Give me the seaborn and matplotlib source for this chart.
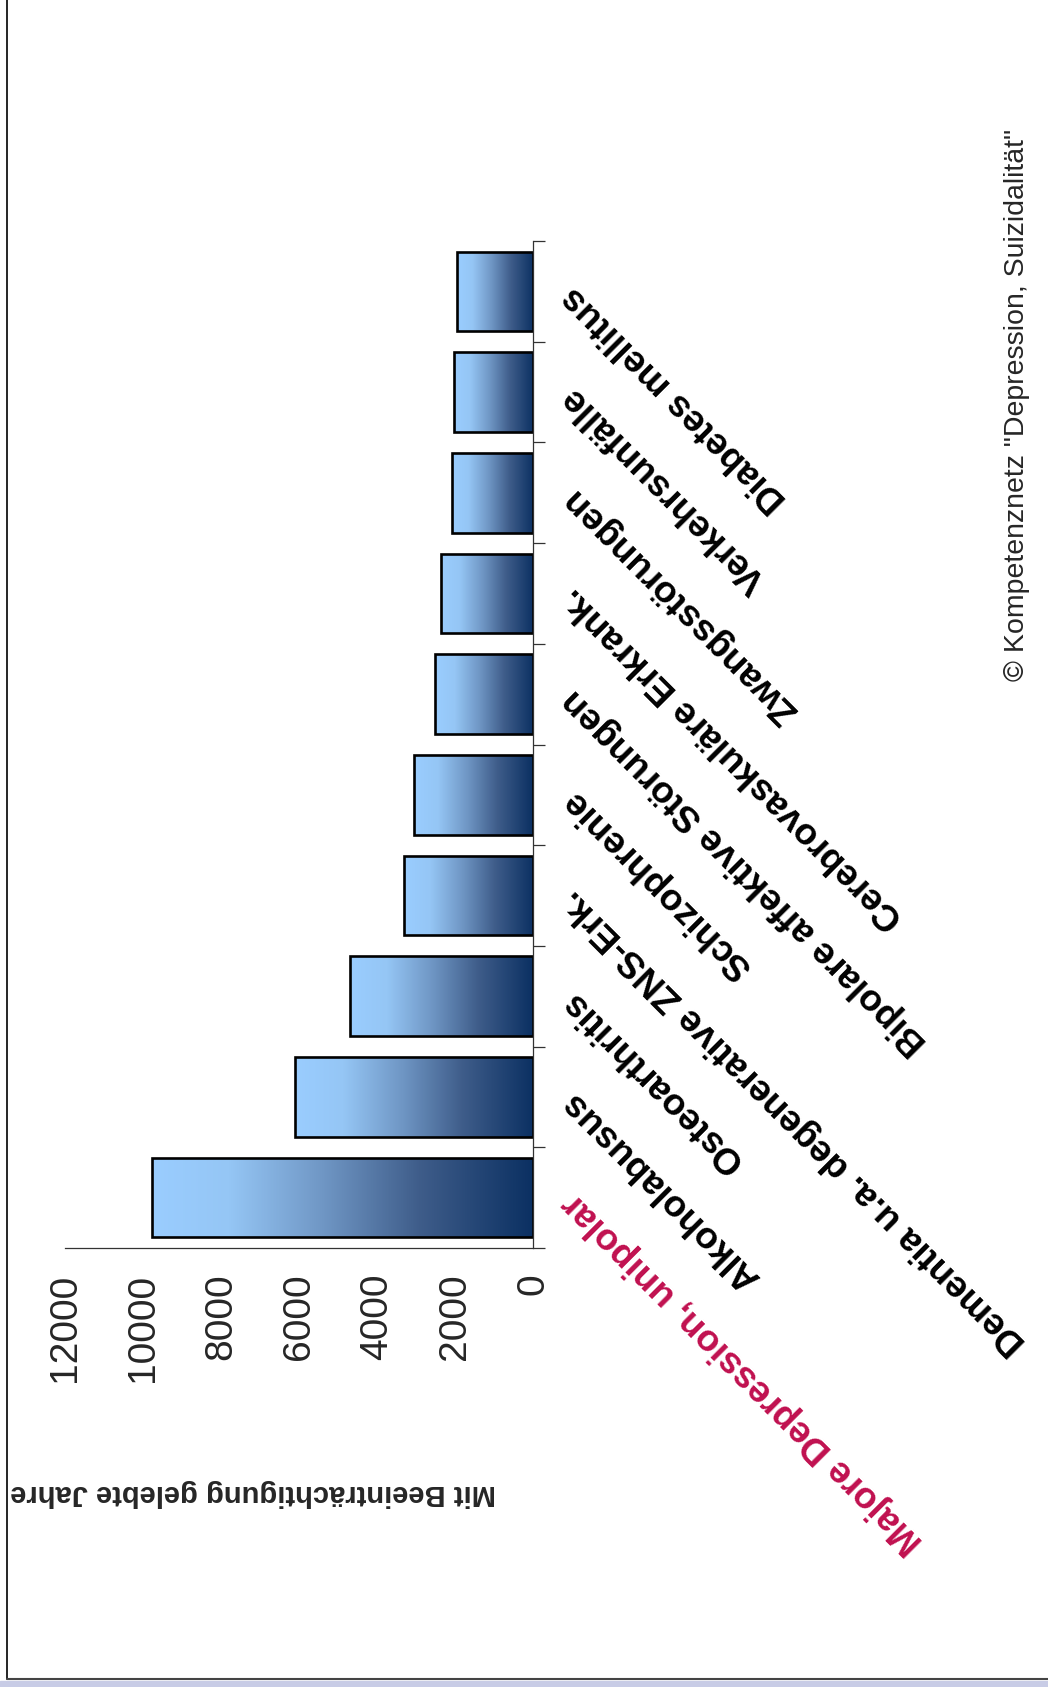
import numpy as np
import pandas as pd
import matplotlib
matplotlib.use("Agg")
import matplotlib.pyplot as plt
import seaborn as sns
from matplotlib.colors import LinearSegmentedColormap
from matplotlib.lines import Line2D
from matplotlib.patches import Rectangle

# data (first category is drawn at the bottom)
categories = ['Majore Depression, unipolar', 'Alkoholabusus', 'Osteoarthritis',
              'Dementia u.a. degenerative ZNS-Erk.', 'Schizophrenie',
              'Bipolare affektive Störungen', 'Cerebrovaskuläre Erkrank.',
              'Zwangsstörungen', 'Verkehrsunfälle', 'Diabetes mellitus']
values = [9780, 6110, 4680, 3310, 3040, 2520, 2360, 2080, 2030, 1950]
value_ticks = [0, 2000, 4000, 6000, 8000, 10000, 12000]
axis_title = 'Mit Beeinträchtigung gelebte Jahre'
credit = '© Kompetenznetz "Depression, Suizidalität"'

sns.set_theme(style='white')
plt.rcParams['font.family'] = ['Liberation Sans', 'DejaVu Sans']

W, H = 1048, 1687
fig = plt.figure(figsize=(W / 100, H / 100), dpi=100)
fig.patch.set_facecolor('white')
ax = fig.add_axes([65 / W, 1 - 1248 / H, (533 - 65) / W, (1248 - 241) / H])

df = pd.DataFrame({'cat': categories, 'val': values})
sns.barplot(data=df, x='val', y='cat', orient='h', order=categories, width=0.79,
            color='white', edgecolor='black', linewidth=1.9, ax=ax)

# gradient fill inside each bar: light at the value end, dark at zero
cmap = LinearSegmentedColormap.from_list(
    'bar', [(0, '#0B3062'), (0.3, '#3F5D8A'), (0.55, '#6F96C4'),
            (0.8, '#95C6F5'), (1, '#9ACDFF')])
grad = np.linspace(0, 1, 256).reshape(1, -1)
for p in ax.patches:
    x0, w, y0, h = p.get_x(), p.get_width(), p.get_y(), p.get_height()
    im = ax.imshow(grad, extent=[x0, x0 + w, y0, y0 + h], aspect='auto',
                   cmap=cmap, origin='lower', zorder=1)
    im.set_clip_path(p)
    p.set_facecolor('none')
    p.set_zorder(2)

ax.set_xlim(12000, 0)
ax.set_ylim(-0.5, 9.5)
ax.set_xlabel('')
ax.set_ylabel('')

for s in ['top', 'left']:
    ax.spines[s].set_visible(False)
for s in ['bottom', 'right']:
    ax.spines[s].set_color('#333333')
    ax.spines[s].set_linewidth(0.9)

ax.set_xticks(value_ticks)
ax.set_xticklabels([str(v) for v in value_ticks], rotation=90, fontsize=28)
ax.tick_params(axis='x', direction='out', length=9.4, width=0.9, color='#333333', pad=9)

ax.yaxis.tick_right()
ax.set_yticks(np.arange(-0.5, 10, 1))
ax.set_yticklabels([])
ax.tick_params(axis='y', which='major', direction='out', length=8.6, width=0.9, color='#333333')
ax.set_yticks(range(len(categories)), minor=True)
ax.set_yticklabels(categories, minor=True)
ax.tick_params(axis='y', which='minor', length=0, pad=25)
for i, t in enumerate(ax.yaxis.get_minor_ticks()):
    lab = t.label2
    lab.set_rotation(135)
    lab.set_rotation_mode('anchor')
    lab.set_ha('right')
    lab.set_va('center')
    lab.set_fontsize(26.5)
    lab.set_fontweight('bold')
    lab.set_color('#C0104F' if i == 0 else 'black')

fig.text(253 / W, 1 - 1493 / H, axis_title, rotation=180, ha='center', va='center',
         fontsize=21, fontweight='bold')
fig.text(1017 / W, 1 - 405 / H, credit, rotation=90, ha='center', va='center',
         fontsize=20.5)

# slide frame
fig.add_artist(Rectangle((0, 0), 1, (H - 1681) / H, transform=fig.transFigure,
                         color='#C8CCE6', zorder=0))
fig.add_artist(Line2D([7 / W, 7 / W], [1 - 1679 / H, 1], transform=fig.transFigure,
                      color='black', lw=1.2))
fig.add_artist(Line2D([7 / W, 1], [1 - 1679 / H] * 2, transform=fig.transFigure,
                      color='#444444', lw=1.5))

fig.savefig('out.png', dpi=100)
